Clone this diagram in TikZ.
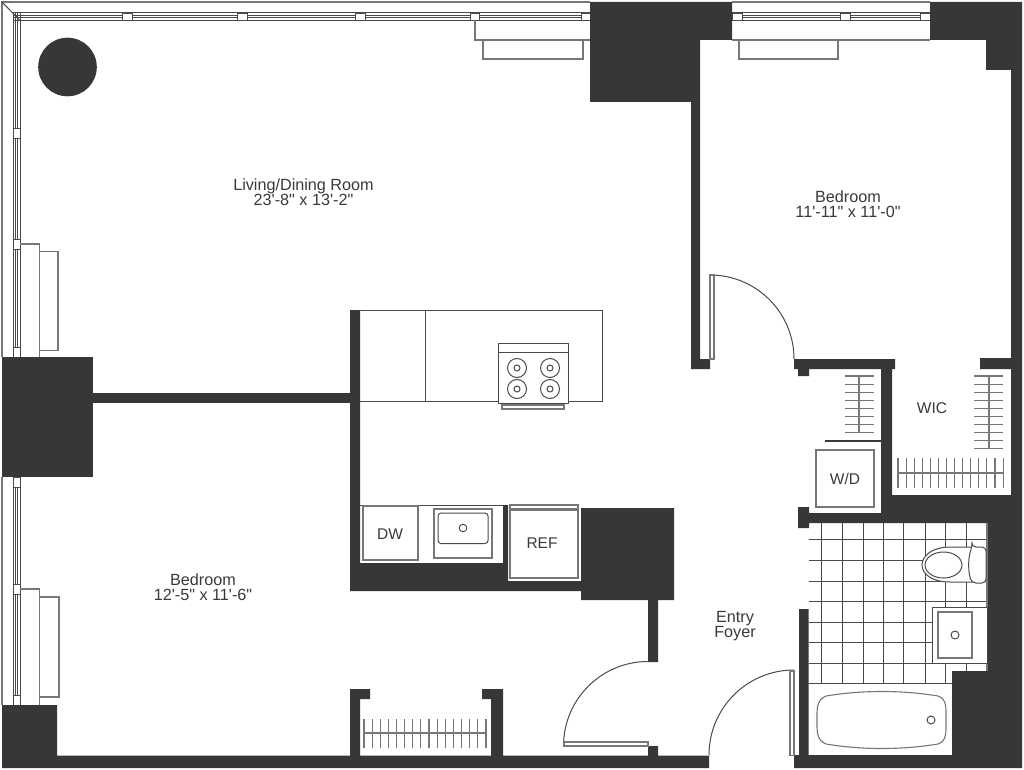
\documentclass[tikz,border=0pt]{standalone}
\usepackage{fontspec}
\newfontfamily\planfont{Liberation Sans}
\definecolor{walldark}{HTML}{383637}
\definecolor{linedark}{HTML}{4A4A4A}
\definecolor{textdark}{HTML}{3A3A3A}
\tikzset{
  wall/.style={fill=walldark,draw=none},
  thinline/.style={draw=linedark,line width=1pt},
  softline/.style={draw=linedark!75,line width=1.1pt},
  fixture/.style={thinline,fill=white},
  mullion/.style={draw=linedark,line width=.8pt,fill=white},
  planlabel/.style={text=textdark,align=center,inner sep=0pt,font=\planfont\fontsize{16.2}{15.2}\selectfont},
  smalllabel/.style={text=textdark,inner sep=0pt,font=\planfont\fontsize{15.5}{15}\selectfont}
}
\begin{document}
\begin{tikzpicture}[x=1pt,y=-1pt]
\useasboundingbox (0,0) rectangle (1024,770);
\fill[white] (0,0) rectangle (1024,770);
% outer glazing lines
\draw[softline] (590,2) -- (2,2) -- (2,357);
\draw[softline] (2,477) -- (2,705);
\draw[softline] (732,2) -- (930,2);
\draw[thinline] (2,2) -- (20,20.5);
% window frames
\foreach \y in {13,16,18,20.5} {
 \draw[thinline] (13,\y) -- (590,\y);
 \draw[thinline] (732,\y) -- (930,\y);
}
\foreach \x in {13,15,17.5,20} {
 \draw[thinline] (\x,13) -- (\x,357);
 \draw[thinline] (\x,477) -- (\x,705);
}
\foreach \x/\w in {122/10,237/10,355/10,470/9,581/9.5,732/10,840/10,920/10} {
 \draw[mullion] (\x,13) rectangle ++(\w,7.5);
}
\foreach \y in {128,239,347,477,584,695} {
 \draw[mullion] (13,\y) rectangle ++(7,10);
}
% sills and radiators
\draw[softline] (475,20.5) -- (475,40) -- (590,40);
\draw[softline] (732,40) -- (930,40);
\draw[softline] (483,40) rectangle (583,59);
\draw[softline] (739,40) rectangle (838,59);
\draw[softline] (20,244) -- (39.5,244) -- (39.5,357);
\draw[softline] (39.5,251.5) rectangle (58,350.5);
\draw[softline] (20,589) -- (39.5,589) -- (39.5,705);
\draw[softline] (39.5,597) rectangle (59,697);
% column
\fill[wall] (67.5,67) circle (29.3);
% walls
\fill[wall] (590,2) -- (732,2) -- (732,40) -- (700,40) -- (700,359) -- (710,359) -- (710,369) -- (691,369) -- (691,102) -- (590,102) -- cycle;
\fill[wall] (930,2) -- (1022,2) -- (1022,768) -- (794,768) -- (794,755) -- (799,755) -- (799,609) -- (808.5,609) -- (808.5,755) -- (952,755) -- (952,671) -- (987,671) -- (987,523) -- (809,523) -- (809,528) -- (798,528) -- (798,507) -- (809,507) -- (809,513) -- (881,513) -- (881,369) -- (809,369) -- (809,376) -- (798,376) -- (798,369) -- (794,369) -- (794,359) -- (895,359) -- (895,369) -- (892,369) -- (892,495) -- (1011,495) -- (1011,369) -- (980,369) -- (980,358) -- (1011,358) -- (1011,70) -- (986,70) -- (986,40) -- (930,40) -- cycle;
\fill[wall] (350,310) -- (360,310) -- (360,563) -- (503,563) -- (503,505) -- (508,505) -- (508,581) -- (581,581) -- (581,508) -- (674,508) -- (674,600) -- (658,600) -- (658,662) -- (648,662) -- (648,600) -- (581,600) -- (581,591) -- (350,591) -- cycle;
\fill[wall] (2,357) rectangle (93,477);
\fill[wall] (93,393) rectangle (350,403);
\fill[wall] (2,705) -- (57,705) -- (57,755.5) -- (350,755.5) -- (350,689) -- (370,689) -- (370,699) -- (360,699) -- (360,755.5) -- (491,755.5) -- (491,699) -- (482,699) -- (482,689) -- (503,689) -- (503,755.5) -- (648,755.5) -- (648,746) -- (658,746) -- (658,755.5) -- (709,755.5) -- (709,768) -- (2,768) -- cycle;
% doors
\draw[thinline] (794,359) arc[start angle=0,end angle=90,radius=84pt];
\draw[softline,fill=white] (710,275) rectangle (714,359);
\draw[thinline] (563.5,746) arc[start angle=180,end angle=90,radius=84.5pt];
\draw[softline,fill=white] (564,742) rectangle (648,746);
\draw[thinline] (709,755) arc[start angle=180,end angle=90,radius=85pt];
\draw[softline,fill=white] (790,671) rectangle (794,755.5);
% kitchen island and stove
\draw[thinline] (360,310) -- (602,310) -- (602,401.5) -- (360,401.5);
\draw[thinline] (425,310) -- (425,401.5);
\draw[fixture] (498,343) rectangle (568,403);
\draw[thinline] (498,352) -- (568,352);
\foreach \x in {517,550} {
 \foreach \y in {368,389} {
  \draw[thinline] (\x,\y) circle (9.5);
  \draw[thinline] (\x,\y) circle (3);
 }
}
\draw[softline] (502,405) rectangle (564,409);
% kitchen counter
\draw[thinline] (360,505.5) -- (503,505.5);
\draw[softline] (363,506) rectangle (418,560);
\draw[softline] (434,509) rectangle (492,558);
\draw[thinline,rounded corners=3pt] (438,513) rectangle (488,543.5);
\draw[thinline] (463,528) circle (3.8);
\draw[softline] (510,505) rectangle (578,509);
\draw[softline] (510,510) rectangle (578,578);
% closets
\foreach \y in {376,384.1,...,434} {
 \draw[softline] (845,\y) -- (874,\y);
}
\draw[softline] (859,376) -- (859,433);
\draw[walldark,line width=2pt] (825,441) -- (881,441);
\draw[softline] (816,450) rectangle (874,507);
\foreach \y in {376,384.05,...,449} {
 \draw[softline] (974,\y) -- (1003,\y);
}
\draw[softline] (989,376) -- (989,448);
\foreach \x in {898,906.08,...,1004} {
 \draw[softline] (\x,458) -- (\x,488);
}
\draw[softline] (898,473) -- (1003,473);
\foreach \x in {364,372.13,...,487} {
 \draw[softline] (\x,719) -- (\x,748);
}
\draw[softline] (364,733) -- (486,733);
% bathroom tiles
\foreach \x in {821,842,863,883,903,925,945} {
 \draw[thinline] (\x,523) -- (\x,683);
}
\draw[thinline] (966,523) -- (966,671);
\foreach \y in {539,560,581,601,622,642,663} {
 \draw[thinline] (808.5,\y) -- (987,\y);
}
\draw[thinline] (808.5,683) -- (952,683);
\draw[softline] (987,523) -- (987,671);
% toilet, vanity and tub
\draw[fixture] (972,547) -- (950,547) .. controls (932,547) and (922,556) .. (922,565) .. controls (922,574) and (932,582) .. (950,582) -- (972,582) -- cycle;
\draw[thinline] (943.5,565) ellipse (18.5 and 13);
\draw[fixture,rounded corners=4pt] (972,547) -- (986,547) -- (986,583) -- (972,583) .. controls (968,572) and (968,558) .. (972,547) -- cycle;
\draw[fixture] (932,607) rectangle (987,663);
\draw[softline] (938,612) rectangle (972,658);
\draw[thinline] (955,635) circle (4);
\draw[softline,fill=white] (826,696) .. controls (862,690) and (902,690) .. (938,696) .. controls (947,699) and (946,708) .. (946,720) .. controls (946,732) and (947,741) .. (938,744) .. controls (902,750) and (862,750) .. (826,744) .. controls (816,740) and (817,730) .. (817,720) .. controls (817,710) and (816,700) .. (826,696) -- cycle;
\draw[thinline] (931,720) circle (4);
% labels
\node[planlabel] (livingroom) at (303.5,192) {Living/Dining Room\\23'-8" x 13'-2"};
\node[planlabel] (bedroomright) at (848,204) {Bedroom\\11'-11" x 11'-0"};
\node[planlabel] (bedroomleft) at (203,587) {Bedroom\\12'-5" x 11'-6"};
\node[planlabel] (foyer) at (735,626.5) {Entry\\Foyer};
\node[smalllabel] (wic) at (932,408) {WIC};
\node[smalllabel] (wd) at (845,478.5) {W/D};
\node[smalllabel] (dw) at (390,534.5) {DW};
\node[smalllabel] (ref) at (542,543.5) {REF};
\end{tikzpicture}
\end{document}
